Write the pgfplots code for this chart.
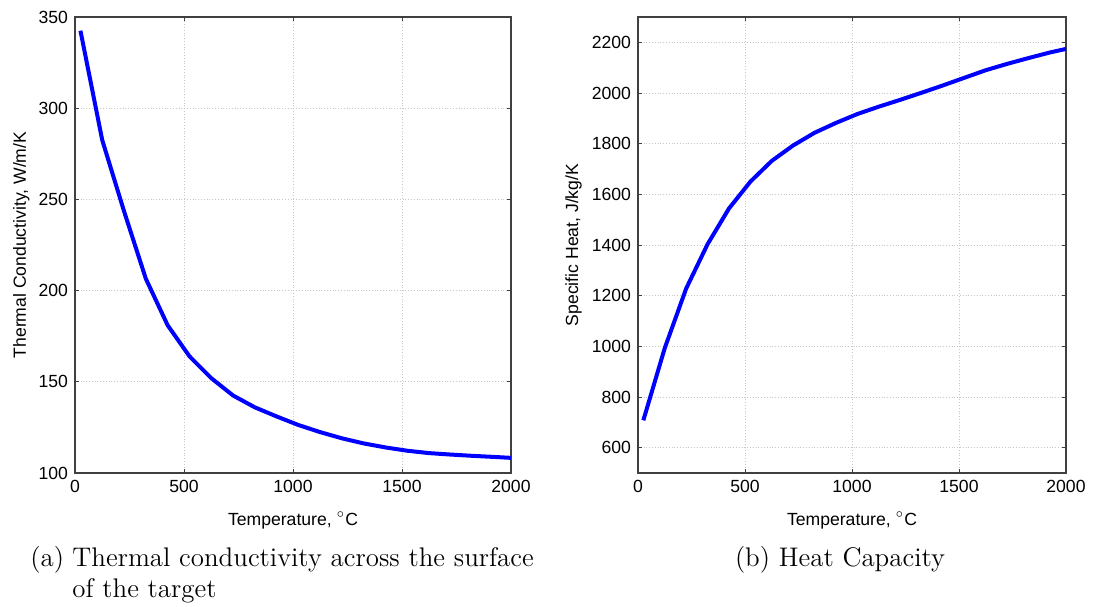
\documentclass[border=0pt]{standalone}
\usepackage{fontspec}
\setsansfont{Liberation Sans}
\usepackage{pgfplots}
\usepackage{pgfplotstable}
\pgfplotsset{compat=1.18}

\pgfplotstableread{
T k
25 342.5
125 282.5
225 243.5
325 206.5
425 181
525 164
625 152
725 142.5
825 136
925 131
1025 126.3
1125 122.4
1225 119
1325 116.2
1425 114
1525 112.2
1625 110.9
1725 110.1
1825 109.4
1925 108.8
2000 108.3
}\conductivity

\pgfplotstableread{
T c
25 708
125 993
225 1228
325 1403
425 1544
525 1650
625 1732
725 1793
825 1843
925 1882
1025 1917
1125 1946
1225 1973
1325 2001
1425 2030
1525 2060
1625 2090
1725 2115
1825 2138
1925 2160
2000 2174
}\heatcap

\pgfplotsset{
 matstyle/.style={
  scale only axis,
  font=\sffamily\fontsize{8.8}{10}\selectfont,
  /pgf/number format/assume math mode=true,
  /pgf/number format/1000 sep={},
  ticklabel style={font=\sffamily\fontsize{8.8}{10}\selectfont},
  label style={font=\sffamily\fontsize{8.8}{10}\selectfont},
  grid=major,
  major grid style={densely dotted, black!22, line width=0.4pt},
  tick align=inside,
  major tick length=2.2pt,
  tick style={black!75, line width=0.5pt},
  axis line style={black!75, line width=0.6pt},
  xmin=0, xmax=2000, xtick={0,500,1000,1500,2000},
  scaled ticks=false,
  xlabel style={at={(axis description cs:0.5,0)}, anchor=base, yshift=-26pt},
 }
}

\begin{document}
\begin{tikzpicture}
\path[use as bounding box] (0,0) rectangle (547pt,-303pt);

\begin{axis}[matstyle,
  at={(37.5pt,-236.5pt)}, anchor=south west,
  width=218pt, height=228pt,
  ymin=100, ymax=350, ytick={100,150,200,250,300,350},
  xlabel={Temperature, $^{\circ}$C},
  ylabel={Thermal Conductivity, W/m/K},
  ylabel style={at={(axis description cs:-0.1124,0.5)}, anchor=base, rotate=0},
]
\addplot[blue, line width=2pt, no marks] table[x=T,y=k] {\conductivity};
\end{axis}

\begin{axis}[matstyle,
  at={(319pt,-236.5pt)}, anchor=south west,
  width=214pt, height=228pt,
  ymin=500, ymax=2300, ytick={600,800,...,2200},
  xlabel={Temperature, $^{\circ}$C},
  ylabel={Specific Heat, J/kg/K},
  ylabel style={at={(axis description cs:-0.140,0.5)}, anchor=base, rotate=0},
]
\addplot[blue, line width=2pt, no marks] table[x=T,y=c] {\heatcap};
\end{axis}

\begin{scope}[every node/.style={inner sep=0pt, font=\fontsize{13.45}{16}\selectfont}]
\node[anchor=base west] at (15pt,-283pt) {(a)};
\node[anchor=base west] at (36pt,-283pt) {Thermal conductivity across the surface};
\node[anchor=base west] at (36pt,-298.5pt) {of the target};
\node[anchor=base] at (420pt,-283pt) {(b) Heat Capacity};
\end{scope}
\end{tikzpicture}
\end{document}
